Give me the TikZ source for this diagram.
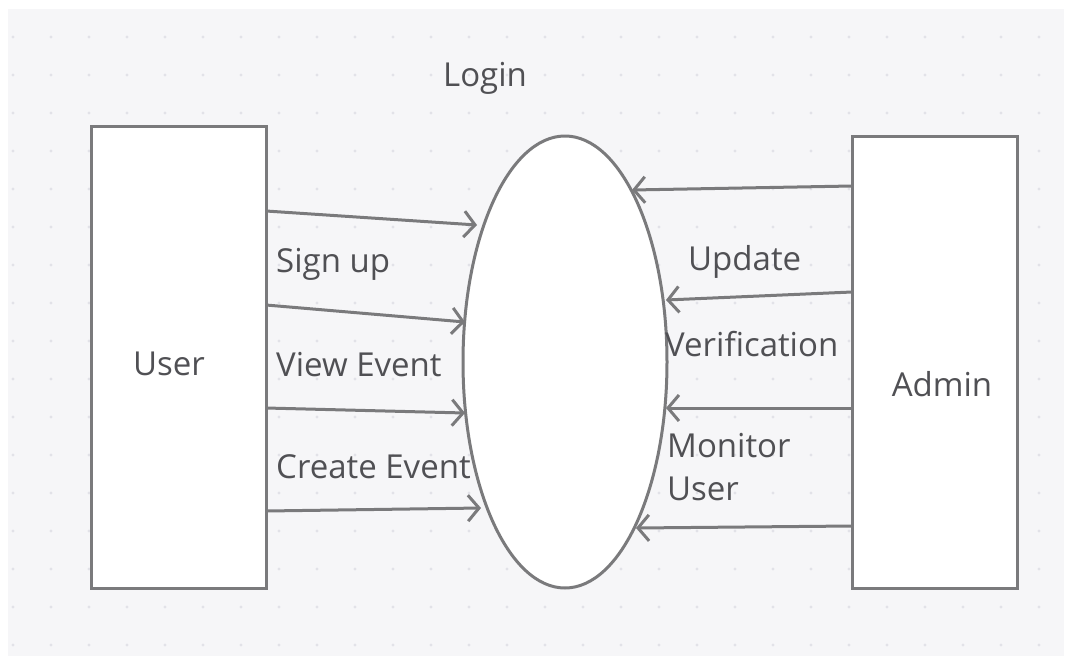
\documentclass[tikz,border=0pt]{standalone}
\usepackage{fontspec}
\setmainfont{Open Sans}
\usetikzlibrary{arrows.meta,shapes.geometric}
\definecolor{linegray}{HTML}{7A7A7C}
\definecolor{textgray}{HTML}{505054}
\definecolor{canvas}{HTML}{F6F6F8}
\definecolor{griddot}{HTML}{E2E2E8}
\tikzset{
  x=1pt, y=-1pt,
  entity/.style={draw=linegray, line width=3pt, fill=white, minimum width=#1, inner sep=0pt},
  flow/.style={draw=linegray, line width=3pt, -{Straight Barb[length=11pt,width=26pt,line width=3pt]}},
  txt/.style={text=textgray, font=\fontsize{33}{40}\selectfont, inner sep=0pt},
  lbl/.style={txt, anchor=west},
}
\begin{document}
\begin{tikzpicture}
\useasboundingbox (0,0) rectangle (1071,667);
\fill[white] (0,0) rectangle (1071,667);
\fill[canvas] (8,9) rectangle (1064,656);
% dotted grid of the canvas
\foreach \gx in {13,51,...,1060} {
  \foreach \gy in {37,75,...,650} {
    \fill[griddot] (\gx,\gy) circle (1.6);
  }
}
% external entities and the process
\node[entity=175pt, minimum height=462pt] (user) at (178.5,357) {};
\node[entity=165pt, minimum height=452pt] (admin) at (934.5,362) {};
\node[draw=linegray, line width=3pt, fill=white, ellipse, minimum width=204pt, minimum height=452pt, inner sep=0pt] (login) at (565,362) {};
\node[txt] (usertxt) at (169,364) {User};
\node[txt] (admintxt) at (942,384) {Admin};
\node[txt] (logintxt) at (485,78) {Login};
% flow end points
\coordinate (u1) at (266,211); \coordinate (p1) at (477,225);
\coordinate (u2) at (266,305); \coordinate (p2) at (465,322);
\coordinate (u3) at (266,408); \coordinate (p3) at (465,413);
\coordinate (u4) at (266,511); \coordinate (p4) at (481,508);
\coordinate (a1) at (852,186); \coordinate (q1) at (632,190);
\coordinate (a2) at (852,292); \coordinate (q2) at (666,300);
\coordinate (a3) at (852,408); \coordinate (q3) at (666,408);
\coordinate (a4) at (852,526); \coordinate (q4) at (636,528);
% flows from the user
\draw[flow] (u1) -- (p1);
\draw[flow] (u2) -- (p2);
\draw[flow] (u3) -- (p3);
\draw[flow] (u4) -- (p4);
% flows from the admin
\draw[flow] (a1) -- (q1);
\draw[flow] (a2) -- (q2);
\draw[flow] (a3) -- (q3);
\draw[flow] (a4) -- (q4);
% flow labels
\node[lbl] (l1) at (276,264) {Sign up};
\node[lbl] (l2) at (276,365) {View Event};
\node[lbl] (l3) at (276,467) {Create Event};
\node[lbl] (r1) at (688,262) {Update};
\node[lbl] (r2) at (665,344) {Verification};
\node[lbl] (r3) at (667,446) {Monitor};
\node[lbl] (r4) at (667,489) {User};
\end{tikzpicture}
\end{document}
